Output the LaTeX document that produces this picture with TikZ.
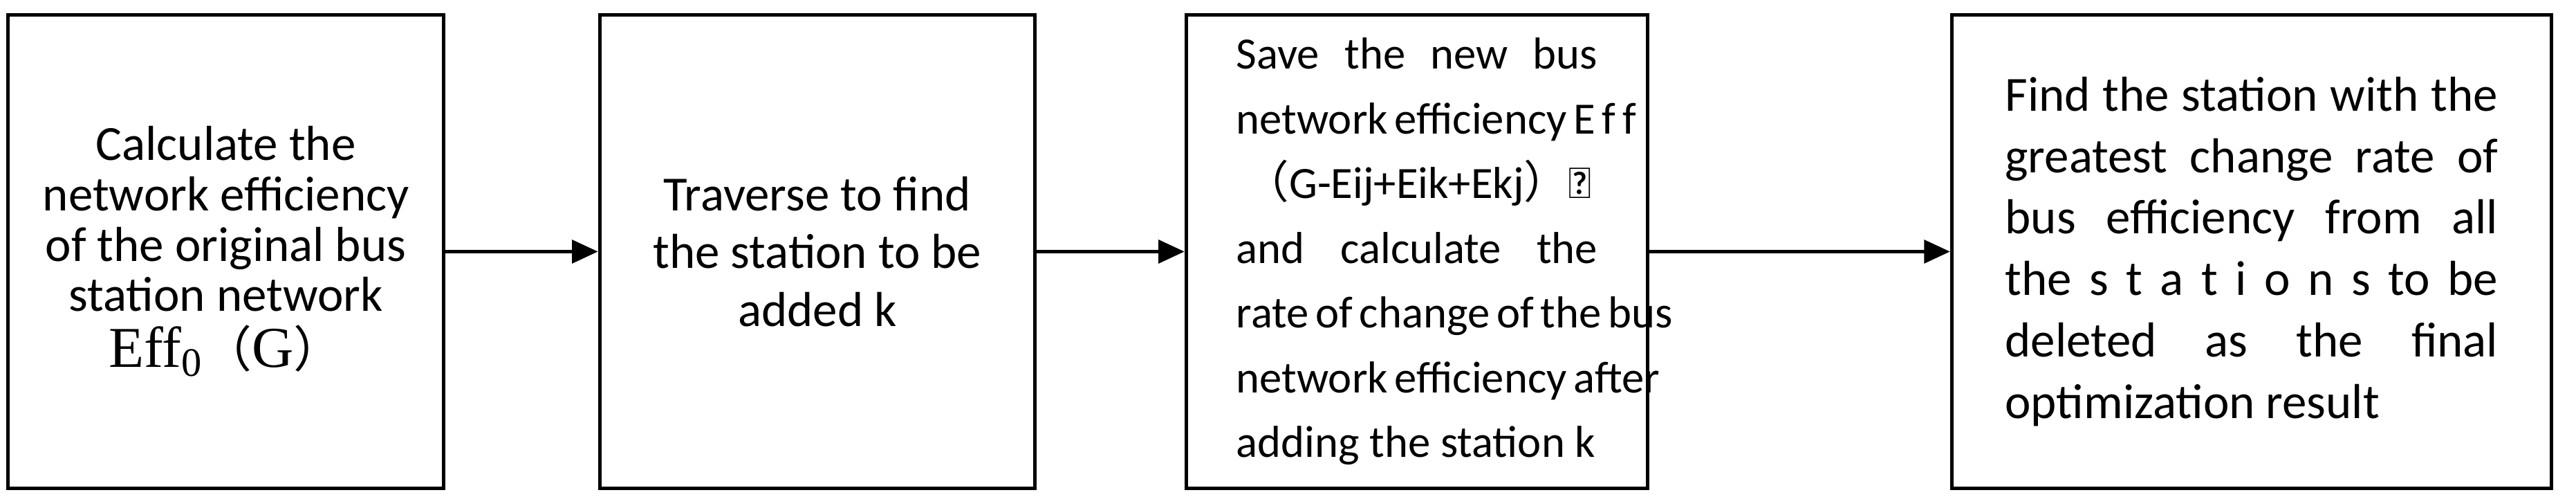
\documentclass[tikz,border=0pt]{standalone}
\usepackage{fontspec}
\setmainfont{Carlito}
\newfontfamily\cjk{Noto Sans CJK SC}
\newfontfamily\tms{Liberation Serif}
\usetikzlibrary{arrows.meta,positioning}
\newcommand{\spreadline}[2]{\makebox[#1][s]{#2}}
\tikzset{
  stepbox/.style={draw,line width=1.2pt,minimum height=5.76cm,inner sep=0pt},
  flow/.style={-{Triangle[length=9pt,width=8pt]},line width=1.2pt}
}
\begin{document}
\begin{tikzpicture}[x=0.02cm,y=0.02cm]
\useasboundingbox (0,0) rectangle (1568,302);

% boxes
\node[stepbox,minimum width=5.3cm,align=center,font=\fontsize{17}{17.4}\selectfont] (calc) at (137.5,149)
  {Calculate the\\network efficiency\\of the original bus\\station network\\[2pt]
   {\tms\fontsize{20}{20}\selectfont Eff\textsubscript{0}}{\cjk（}{\tms\fontsize{20}{20}\selectfont G}{\cjk）}};
\node[stepbox,minimum width=5.3cm,align=center,font=\fontsize{17}{20}\selectfont] (trav) at (497.5,149)
  {Traverse to find\\the station to be\\added k};
\node[stepbox,minimum width=5.62cm,align=left,font=\fontsize{15.5}{22.4}\selectfont] (save) at (862.5,149)
  {\spreadline{4.4cm}{Save the new bus}\\
   \spreadline{4.4cm}{network efficiency E f f}\\
   \hspace*{0.1cm}{\cjk（}G-Eij+Eik+Ekj{\cjk）}，\\
   \spreadline{4.4cm}{and calculate the}\\
   \spreadline{4.4cm}{rate of change of the bus}\\
   \spreadline{4.4cm}{network efficiency after}\\
   adding the station k};
\node[stepbox,minimum width=7.3cm,align=left,font=\fontsize{17}{21.3}\selectfont] (find) at (1370.5,149)
  {\spreadline{6.0cm}{Find the station with the}\\
   \spreadline{6.0cm}{greatest change rate of}\\
   \spreadline{6.0cm}{bus efficiency from all}\\
   \spreadline{6.0cm}{the s t a t i o n s to be}\\
   \spreadline{6.0cm}{deleted as the final}\\
   optimization result};

% arrows
\draw[flow] (calc) -- (trav);
\draw[flow] (trav) -- (save);
\draw[flow] (save) -- (find);
\end{tikzpicture}
\end{document}
